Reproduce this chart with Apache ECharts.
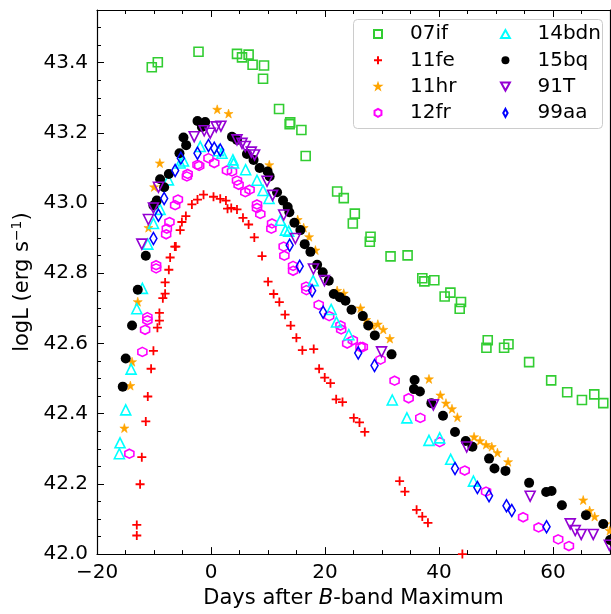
<!DOCTYPE html>
<html><head><meta charset="utf-8">
<script src="https://cdn.jsdelivr.net/npm/echarts@6/dist/echarts.min.js"></script>
<style>html,body{margin:0;padding:0;background:#fff}#c{width:611px;height:614px}</style>
</head><body><div id="c"></div>
<script>
// ---- data (days after B max, logL) ----
const s07if = [[-10.39,43.387],[-9.33,43.401],[-2.19,43.431],[4.56,43.425],[5.44,43.415],[6.6,43.423],[7.30,43.394],[9.30,43.392],[9.13,43.354],[11.94,43.268],[13.80,43.225],[13.9,43.230],[15.86,43.208],[16.61,43.134],[22.13,43.033],[23.29,43.014],[25.23,42.970],[24.88,42.942],[27.99,42.904],[27.86,42.890],[31.50,42.848],[34.49,42.851],[37.07,42.786],[37.43,42.777],[39.18,42.780],[40.99,42.734],[42.0,42.745],[43.86,42.718],[43.63,42.699],[48.55,42.609],[48.32,42.588],[51.42,42.588],[52.19,42.598],[55.81,42.547],[59.68,42.495],[62.49,42.461],[65.08,42.439],[67.24,42.455],[68.82,42.430]];
const s11fe = [[-13.02,42.053],[-13.02,42.083],[-12.44,42.199],[-12.14,42.276],[-11.44,42.378],[-11.09,42.449],[-10.51,42.528],[-10.10,42.579],[-9.40,42.645],[-9.05,42.665],[-9.05,42.687],[-8.45,42.729],[-8.05,42.742],[-8.05,42.774],[-7.40,42.810],[-7.17,42.845],[-6.35,42.876],[-6.17,42.876],[-5.41,42.923],[-5.11,42.946],[-4.41,42.963],[-3.35,42.996],[-2.37,43.010],[-1.31,43.024],[0.44,43.018],[1.62,43.012],[2.62,43.007],[2.90,42.984],[3.55,42.986],[4.56,42.982],[5.61,42.958],[6.60,42.939],[7.60,42.902],[8.95,42.849],[10.01,42.776],[10.99,42.741],[11.99,42.718],[12.99,42.682],[13.98,42.651],[14.98,42.616],[16.03,42.581],[18.02,42.584],[18.97,42.528],[19.95,42.503],[20.96,42.487],[21.96,42.441],[23.07,42.433],[25.05,42.388],[26.05,42.375],[26.98,42.348],[33.09,42.208],[34.02,42.178],[36.07,42.126],[37.07,42.107],[38.06,42.089],[44.1,42.0]];
const s11hr = [[-15.20,42.359],[-14.15,42.480],[-13.85,42.548],[-12.85,42.719],[-10.98,42.930],[-9.98,43.046],[-8.98,43.114],[1.09,43.267],[3.08,43.255],[10.23,43.109],[15.21,42.953],[16.26,42.930],[17.21,42.904],[18.32,42.866],[22.13,42.751],[23.29,42.743],[26.23,42.701],[27.23,42.668],[28.29,42.650],[29.27,42.655],[30.22,42.640],[31.38,42.614],[38.24,42.499],[40.24,42.453],[41.22,42.430],[42.28,42.414],[43.23,42.390],[46.15,42.334],[47.20,42.323],[48.26,42.312],[49.26,42.306],[50.26,42.289],[52.12,42.263],[65.30,42.154],[66.43,42.124],[67.31,42.107],[69.17,42.086],[69.95,42.067]];
const s12fr = [[-14.32,42.286],[-12.04,42.576],[-11.56,42.639],[-11.16,42.666],[-11.16,42.675],[-9.63,42.814],[-9.63,42.823],[-7.87,42.911],[-7.75,42.927],[-7.29,42.946],[-6.29,42.994],[-5.81,43.010],[-4.23,43.076],[-4.10,43.083],[-2.37,43.109],[-2.07,43.106],[-0.44,43.128],[0.57,43.114],[2.80,43.093],[3.68,43.090],[4.56,43.064],[4.84,43.052],[6.02,43.031],[6.77,43.038],[8.07,42.996],[8.07,42.986],[8.65,42.969],[10.71,42.942],[10.59,42.927],[12.75,42.876],[12.87,42.850],[14.40,42.821],[14.40,42.807],[16.69,42.762],[16.74,42.752],[18.90,42.710],[20.73,42.678],[22.71,42.651],[22.84,42.640],[23.89,42.600],[24.88,42.609],[26.23,42.590],[26.63,42.590],[29.74,42.554],[32.21,42.494],[34.67,42.444],[36.72,42.388],[40.12,42.319],[44.51,42.238],[48.26,42.178],[54.76,42.105],[57.47,42.076],[60.91,42.042],[62.79,42.023]];
const s14bdn = [[-16.08,42.286],[-15.96,42.317],[-14.96,42.411],[-14.02,42.527],[-13.02,42.699],[-12.04,42.757],[-11.09,42.883],[-10.10,42.942],[-8.93,42.982],[-7.47,43.066],[-5.41,43.114],[-4.83,43.120],[-1.89,43.161],[1.32,43.149],[1.92,43.142],[3.85,43.123],[3.96,43.114],[6.07,43.095],[8.07,43.065],[9.13,43.036],[10.18,43.013],[12.17,42.951],[13.05,42.923],[13.63,42.920],[17.92,42.779],[21.08,42.697],[22.01,42.661],[24.17,42.625],[31.80,42.439],[34.37,42.388],[38.24,42.324],[40.12,42.331],[42.05,42.270],[46.04,42.208]];
const s15bq = [[-15.48,42.477],[-14.96,42.557],[-13.85,42.651],[-12.85,42.753],[-11.44,42.850],[-10.10,42.993],[-9.51,43.007],[-8.93,43.068],[-8.22,43.045],[-7.40,43.083],[-5.53,43.142],[-4.36,43.165],[-4.83,43.187],[-2.37,43.234],[-1.60,43.217],[-1.02,43.231],[3.68,43.189],[4.56,43.180],[6.31,43.140],[7.47,43.123],[8.53,43.100],[9.93,43.090],[10.29,43.076],[11.59,43.031],[12.64,43.007],[13.45,42.989],[13.75,42.974],[14.63,42.944],[15.68,42.923],[16.44,42.883],[17.44,42.861],[18.62,42.824],[19.60,42.803],[20.66,42.779],[21.54,42.741],[22.59,42.732],[23.59,42.722],[24.65,42.696],[26.63,42.678],[27.58,42.651],[28.74,42.623],[31.68,42.569],[35.72,42.496],[35.60,42.470],[36.65,42.463],[38.66,42.430],[40.70,42.394],[42.81,42.348],[44.69,42.322],[45.86,42.306],[48.78,42.272],[49.73,42.244],[51.66,42.237],[55.81,42.203],[58.80,42.177],[59.75,42.180],[61.56,42.139],[65.78,42.111],[68.82,42.086],[70.0,42.040]];
const s91T = [[-12.14,42.883],[-10.98,42.953],[-10.10,42.986],[-9.22,43.045],[-2.95,43.189],[-1.19,43.206],[-0.14,43.199],[0.92,43.217],[1.74,43.219],[4.56,43.180],[5.44,43.170],[6.02,43.161],[7.07,43.145],[7.65,43.137],[9.83,43.062],[10.81,43.022],[12.75,42.966],[14.80,42.899],[17.97,42.812],[19.90,42.779],[29.92,42.576],[39.01,42.425],[44.86,42.305],[55.99,42.165],[63.02,42.086],[63.90,42.067],[64.95,42.056],[67.06,42.056],[69.88,42.025]];
const s99aa = [[-10.10,42.899],[-9.22,42.965],[-8.22,43.013],[-6.29,43.093],[-5.29,43.128],[-2.37,43.142],[-0.44,43.164],[0.57,43.156],[1.62,43.151],[13.80,42.880],[15.56,42.820],[17.74,42.750],[19.67,42.689],[25.83,42.573],[28.69,42.537],[42.81,42.244],[46.74,42.190],[48.78,42.166],[51.84,42.138],[52.77,42.124],[58.87,42.078]];

const namesCol1 = ['07if','11fe','11hr','12fr'];
const namesCol2 = ['14bdn','15bq','91T','99aa'];

const FONT = 'DejaVu Sans';
const chart = echarts.init(document.getElementById('c'), null, {renderer:'canvas'});

function xAx(pos, interval, len, labels, line) {
  return {
    type:'value', position:pos, min:-20, max:70, interval:interval,
    axisLine:{show:line, onZero:false, lineStyle:{color:'#000', width:1.2}},
    axisTick:{show:true, inside:true, length:len, lineStyle:{color:'#000', width:1}},
    axisLabel:{show:labels, fontSize:20, color:'#000', fontFamily:FONT, margin:9, showMaxLabel:false,
      formatter: v => v < 0 ? '\u2212' + (-v) : String(v)},
    splitLine:{show:false}
  };
}
function yAx(pos, interval, len, labels, line, ticks) {
  return {
    type:'value', position:pos, min:42.0, max:43.55, interval:interval,
    axisLine:{show:line, onZero:false, lineStyle:{color:'#000', width:1.2}},
    axisTick:{show:ticks, inside:true, length:len, lineStyle:{color:'#000', width:1}},
    axisLabel:{show:labels, fontSize:20, color:'#000', fontFamily:FONT, margin:9, showMaxLabel:false,
      formatter: v => v.toFixed(1)},
    splitLine:{show:false}
  };
}
const xs = [xAx('bottom',20,7,true,true), xAx('bottom',5,4,false,false), xAx('top',20,7,false,true), xAx('top',5,4,false,false)];
xs[0].name = 'Days after {i|B}-band Maximum';
xs[0].nameLocation = 'middle';
xs[0].nameGap = 31;
xs[0].nameTextStyle = {fontSize:21, color:'#000', fontFamily:FONT, rich:{i:{fontSize:21, fontStyle:'italic', fontFamily:FONT, color:'#000'}}};
const ys = [yAx('left',0.2,7,true,true,true), yAx('left',0.05,4,false,false,true), yAx('right',0.2,7,false,true,false)];
ys[0].name = 'logL (erg s{s|\u22121})';
ys[0].nameLocation = 'middle';
ys[0].nameGap = 62;
ys[0].nameTextStyle = {fontSize:21, color:'#000', fontFamily:FONT, rich:{s:{fontSize:14, verticalAlign:'top', fontFamily:FONT, color:'#000', padding:[0,0,10,0]}}};

const hollow = (c) => ({color:'rgba(0,0,0,0)', borderColor:c, borderWidth:1.6, opacity:1});
const STAR = 'path://M0,-1L0.2245,-0.309L0.951,-0.309L0.363,0.118L0.588,0.809L0,0.382L-0.588,0.809L-0.363,0.118L-0.951,-0.309L-0.2245,-0.309Z';
const LEG_STAR = 'path://M-1.5,-1.5L-1.5,-1.5M1.5,1.5L1.5,1.5M0,-1L0.2245,-0.309L0.951,-0.309L0.363,0.118L0.588,0.809L0,0.382L-0.588,0.809L-0.363,0.118L-0.951,-0.309L-0.2245,-0.309Z';
const HEX = 'path://M0,-1L0.866,-0.5L0.866,0.5L0,1L-0.866,0.5L-0.866,-0.5Z';
const PLUS = 'path://M0,-1L0,1M-1,0L1,0';
const TDOWN = 'path://M-1,-0.9L1,-0.9L0,0.9Z';
const TUP = 'path://M-1,0.9L1,0.9L0,-0.9Z';
const SQ = 'path://M-1,-1L1,-1L1,1L-1,1Z';
const CIRC = 'path://M1,0A1,1,0,1,1,-1,0A1,1,0,1,1,1,0Z';
const THIN_D = 'path://M0,-1L0.55,0L0,1L-0.55,0Z';

function sc(name, data, symbol, size, style) {
  return {type:'scatter', name:name, data:data, symbol:symbol, symbolSize:size, symbolKeepAspect:false,
    itemStyle:style, emphasis:{disabled:true}, xAxisIndex:0, yAxisIndex:0, animation:false, clip:false};
}

const legendText = {fontSize:20, fontFamily:FONT, color:'#000', lineHeight:20};
const legBase = {orient:'vertical', z:20, top:24, padding:0, itemGap:6.3, itemWidth:54, itemHeight:8,
  textStyle:legendText, selectedMode:false};
const option = {
  backgroundColor:'#fff',
  animation:false,
  grid:{left:97, right:1, top:10, bottom:57, containLabel:false},
  xAxis: xs,
  yAxis: ys,
  graphic:[{type:'rect', z:10, shape:{x:353.5, y:19.5, width:249, height:109, r:4},
    style:{fill:'rgba(255,255,255,0.8)', stroke:'#cccccc', lineWidth:1}}],
  legend:[
    Object.assign({}, legBase, {left:373, data:[{name:namesCol1[0], icon:SQ}, {name:namesCol1[1], icon:PLUS}, {name:namesCol1[2], icon:LEG_STAR}, {name:namesCol1[3], icon:HEX}]}),
    Object.assign({}, legBase, {left:500, data:[{name:namesCol2[0], icon:TUP}, {name:namesCol2[1], icon:CIRC}, {name:namesCol2[2], icon:TDOWN}, {name:namesCol2[3], icon:THIN_D}]})
  ],
  series:[
    sc('07if', s07if, 'rect', 9, hollow('#32CD32')),
    sc('11fe', s11fe, PLUS, 9, {color:'rgba(0,0,0,0)', borderColor:'#FF0000', borderWidth:1.8, opacity:1}),
    sc('11hr', s11hr, STAR, 9, {color:'#FFA500', borderColor:'#FFA500', borderWidth:0.6, opacity:1}),
    sc('12fr', s12fr, HEX, 9, hollow('#FF00FF')),
    sc('14bdn', s14bdn, 'triangle', 10, hollow('#00FFFF')),
    sc('15bq', s15bq, 'circle', 10, {color:'#000', opacity:1}),
    sc('91T', s91T, TDOWN, 10, hollow('#9400D3')),
    sc('99aa', s99aa, 'diamond', [7,12], hollow('#0000FF'))
  ]
};
chart.setOption(option);
</script>
</body></html>
